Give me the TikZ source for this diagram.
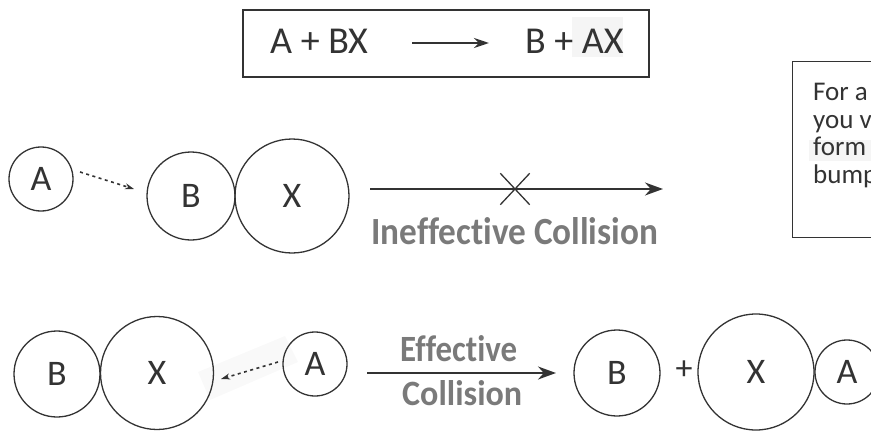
\documentclass[tikz,border=0pt]{standalone}
\usepackage{fontspec}
\setmainfont{Carlito}[Ligatures={NoCommon}]
\usepackage{graphicx}
\usetikzlibrary{arrows.meta,shapes.misc}
\definecolor{ink}{HTML}{333333}
\definecolor{lbl}{HTML}{7A7A7A}
\definecolor{hilite}{HTML}{F5F5F5}
\begin{document}
\begin{tikzpicture}[x=1pt,y=-1pt,
  ball/.style={circle,draw=ink,line width=1.3pt,inner sep=0pt,text=ink,font=\fontsize{36}{36}\selectfont},
  bigarrow/.style={draw=ink,line width=2pt,-{Stealth[length=18pt,width=13pt]}},
  dotarrow/.style={draw=ink,line width=1.6pt,dash pattern=on 3pt off 3.5pt,-{Stealth[length=9pt,width=6pt]}},
  clabel/.style={inner sep=0pt,anchor=base west,text=lbl,font=\bfseries\fontsize{36}{36}\selectfont},
  eqtext/.style={inner sep=0pt,anchor=base west,text=ink,font=\fontsize{38}{38}\selectfont},
  notetext/.style={inner sep=0pt,anchor=base west,text=ink,font=\fontsize{27}{27}\selectfont}]
\useasboundingbox (0,0) rectangle (871,431);
\clip (0,0) rectangle (871,431);

% faint highlights
\fill[hilite] (572,17) rectangle (623,57);
\fill[hilite] (809,140) rectangle (871,161);
\fill[gray!5] (198,372) -- (285,336) -- (298,362) -- (210,400) -- cycle;

% equation box
\node[draw=ink,line width=1.5pt,anchor=north west,minimum width=406pt,minimum height=67pt,inner sep=0pt] (eqbox) at (242,9) {};
\node[eqtext] (lhs) at (270,53) {A + BX};
\node[eqtext] (rhs) at (525,53) {B + AX};
\coordinate (q1) at (412,43);
\coordinate (q2) at (489,43);
\draw[bigarrow,line width=2.4pt,-{Stealth[length=15pt,width=10pt]}] (q1) -- (q2);

% note box (cut off at right edge, as in the reference)
\node[draw=ink,line width=1.3pt,anchor=north west,minimum width=100pt,minimum height=176pt,inner sep=0pt] (note) at (792,61) {};
\node[notetext] (n1) at (813,100) {For a};
\node[notetext] (n2) at (813,128) {you v};
\node[notetext] (n3) at (813,155) {form};
\node[notetext] (n4) at (813,183) {bump};

% row 1: ineffective collision
\node[ball,minimum size=64pt] (A1) at (41,179) {A};
\node[ball,minimum size=88pt] (B1) at (191,196) {B};
\node[ball,minimum size=114pt] (X1) at (292,196) {X};
\coordinate (d1s) at (80,172);
\coordinate (d1e) at (134,189);
\draw[dotarrow] (d1s) -- (d1e);
\coordinate (i1) at (370,189);
\coordinate (i2) at (663,189);
\draw[bigarrow] (i1) -- (i2);
\node[cross out,draw=ink,line width=1.3pt,minimum width=28pt,minimum height=30pt,inner sep=0pt] (cx) at (515,189) {};
\node[clabel] (ineff) at (371,244) {\resizebox{287pt}{27pt}{Ineffective Collision}};

% row 2: effective collision
\node[ball,minimum size=86pt] (B2) at (57,374) {B};
\node[ball,minimum size=113pt] (X2) at (157,373) {X};
\node[ball,minimum size=64pt] (A2) at (315,364) {A};
\coordinate (d2s) at (278,362);
\coordinate (d2e) at (221,379);
\draw[dotarrow] (d2s) -- (d2e);
\coordinate (e1) at (367,373);
\coordinate (e2) at (556,373);
\draw[bigarrow] (e1) -- (e2);
\node[clabel] (eff1) at (400,361) {\resizebox{117pt}{26pt}{Effective}};
\node[clabel] (eff2) at (402,405) {\resizebox{120pt}{25pt}{Collision}};

\node[ball,minimum size=86pt] (B3) at (617,373) {B};
\node[inner sep=0pt,text=ink,font=\fontsize{34}{34}\selectfont] (plus) at (684,370) {+};
\node[ball,minimum size=116pt] (X3) at (756,372) {X};
\node[ball,minimum size=64pt] (A3) at (847,372) {A};
\end{tikzpicture}
\end{document}
